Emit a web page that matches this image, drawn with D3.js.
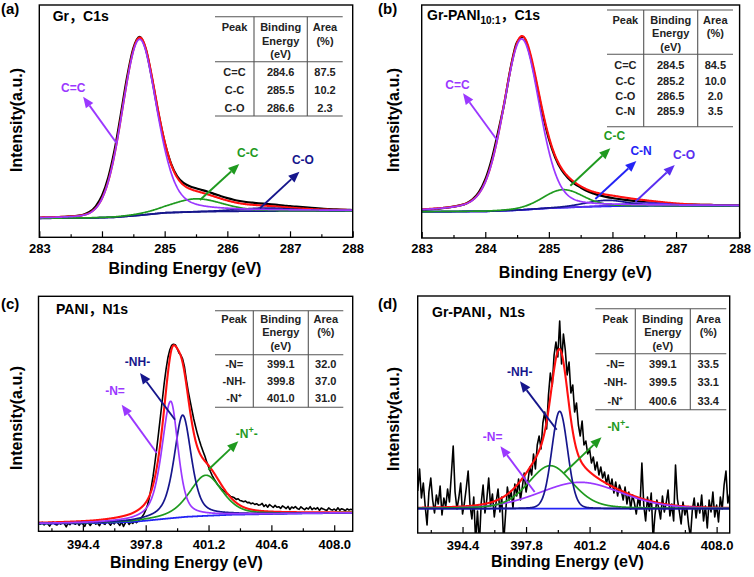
<!DOCTYPE html>
<html><head><meta charset="utf-8">
<script src="https://cdn.jsdelivr.net/npm/d3@7/dist/d3.min.js"></script>
<style>
body{margin:0;background:#fff}
svg{display:block}
text{font-family:"Liberation Sans",Arial,Helvetica,"Noto Sans CJK SC",sans-serif;font-weight:bold}
</style>
</head><body>
<svg id="chart" width="754" height="577"></svg>
<script>
// ================= DATA =================
// ---- (a) Gr, C1s ----
const aEnergyStart = 283.0, aEnergyStep = 0.1;
const aMeasured = [19.5,19.7,19.9,20.2,20.5,20.9,21.4,22.6,25.3,31.0,
  41.5,59.8,87.0,122.6,160.0,189.0,200.5,188.0,158.0,124.0,
  95.0,74.0,61.0,54.5,51.0,49.0,47.2,45.3,43.2,41.1,
  39.2,37.6,36.3,35.3,34.6,34.0,33.5,33.0,32.4,31.8,
  31.1,30.6,30.1,29.6,29.1,28.7,28.3,28.0,27.7,27.5,27.3];
const aPeakName   = ["C=C","C-C","C-O"];
const aPeakCenter = [284.6, 285.5, 286.6];
const aPeakHeight = [176, 13, 3];
const aPeakFwhmL  = [0.65, 1.0, 1.0];
const aPeakFwhmR  = [0.65, 1.0, 1.0];
const aPeakLorL   = [0.10, 0.2, 0.2];
const aPeakLorR   = [0.35, 0.2, 0.2];
const aBgEnergy = [283, 283.8, 284.2, 284.6, 285, 285.5, 286, 287, 288];
const aBgValue  = [19, 19.3, 20, 22, 24.5, 25.5, 26, 26.4, 26.6];
const aTablePeak   = ["C=C","C-C","C-O"];
const aTableEnergy = ["284.6","285.5","286.6"];
const aTableArea   = ["87.5","10.2","2.3"];

// ---- (b) Gr-PANI 10:1, C1s ----
const bEnergyStart = 283.0, bEnergyStep = 0.1;
const bMeasured = [28.2,28.6,29.1,29.6,30.3,31.3,32.6,34.6,38.6,45.8,
  58.5,78.5,105.5,135.0,170.5,196.0,201.0,184.0,155.5,125.0,
  99.0,80.5,68.0,60.0,54.5,50.5,47.0,44.6,42.6,41.2,
  40.0,39.0,38.1,37.3,36.6,36.0,35.4,34.9,34.5,34.1,
  33.8,33.6,33.4,33.3,33.2,33.1,33.0,33.0,32.9,32.9,32.8];
const bPeakName   = ["C=C","C-C","C-N","C-O"];
const bPeakCenter = [284.57, 285.22, 285.9, 286.5];
const bPeakHeight = [171, 18, 6, 3];
const bPeakFwhmL  = [0.67, 0.75, 0.8, 0.9];
const bPeakFwhmR  = [0.67, 0.75, 0.8, 0.9];
const bPeakLorL   = [0.3, 0.2, 0.2, 0.2];
const bPeakLorR   = [0.25, 0.2, 0.2, 0.2];
const bBgEnergy = [283, 284, 284.5, 285, 285.5, 286, 287, 288];
const bBgValue  = [26.3, 26.6, 27.8, 29.8, 31, 31.8, 32.2, 32.3];
const bTablePeak   = ["C=C","C-C","C-O","C-N"];
const bTableEnergy = ["284.5","285.2","286.5","285.9"];
const bTableArea   = ["84.5","10.0","2.0","3.5"];

// ---- (c) PANI, N1s ----
const cEnergyStart = 392.0, cEnergyStep = 0.1;
const cMeasured = [8.2,7.1,9.0,6.4,8.3,7.5,5.2,8.1,9.3,7.0,
  6.3,8.4,7.2,9.1,7.6,4.5,8.2,6.6,9.4,8.0,
  7.1,9.2,6.0,8.5,7.3,5.0,9.1,8.2,5.8,8.4,
  9.0,7.2,8.3,5.6,9.3,8.1,7.0,10.2,8.4,6.1,
  9.3,7.4,10.1,8.2,5.9,9.4,4.8,8.5,10.3,6.8,
  9.2,7.9,10.4,8.6,10.3,12.1,14.4,17.2,21.1,26.3,
  33.8,43.9,55.1,68.8,83.2,99.0,115.1,131.3,147.8,161.9,
  173.5,181.2,185.8,187.1,186.6,182.9,178.4,176.2,172.1,164.3,
  151.5,140.2,130.6,121.4,112.3,104.5,97.2,91.0,85.3,80.1,
  75.2,69.4,64.6,59.8,55.7,52.3,49.4,46.5,44.6,42.3,
  40.7,39.4,37.2,36.5,34.8,34.2,33.5,31.9,32.6,30.8,
  30.4,29.6,30.2,28.7,28.9,27.5,28.3,26.8,27.6,26.2,
  26.5,27.9,24.8,26.6,24.1,26.8,25.3,23.8,25.9,24.0,
  24.6,22.9,25.4,24.1,22.7,24.9,21.8,24.3,23.1,24.7,
  22.8,21.9,24.5,23.0,21.6,23.4,22.2,24.6,21.7,23.3,
  22.1,23.6,20.9,23.2,22.4,21.5,20.8,23.4,21.9,21.2,
  22.3,20.7,23.5,21.0,22.6,21.8,20.6,22.5,21.3,22.0,21.4];
const cPeakName   = ["-N=","-NH-","-N⁺-"];
const cPeakCenter = [399.15, 399.8, 401.05];
const cPeakHeight = [117, 102, 40.6];
const cPeakFwhmL  = [1.15, 1.1, 2.1];
const cPeakFwhmR  = [0.95, 1.1, 2.1];
const cPeakLorL   = [0.6, 0.6, 0.5];
const cPeakLorR   = [0.5, 0.5, 0.4];
const cBgEnergy = [392, 395, 397, 397.8, 399, 400, 401.2, 402.5, 404.6, 406.5, 409];
const cBgValue  = [7.6, 8.2, 9.3, 10.6, 12.8, 14.5, 15.6, 16.6, 17.3, 17.9, 18.4];
const cTablePeak   = ["-N=","-NH-","-N⁺"];
const cTableEnergy = ["399.1","399.8","401.0"];
const cTableArea   = ["32.0","37.0","31.0"];

// ---- (d) Gr-PANI, N1s ----
const dEnergyStart = 392.0, dEnergyStep = 0.1;
const dMeasured = [42,64,35,50,27,8,41,55,33,20,
  38,29,47,18,35,26,44,31,58,87,
  41,24,35,50,19,30,45,62,28,14,
  36,-8,22,-12,30,48,20,34,55,27,
  39,16,31,44,21,36,-10,18,46,33,
  42,25,49,37,54,33,46,60,41,52,
  66,58,79,64,88,97,84,110,121,104,
  138,160,147,178,191,176,212,169,199,183,
  158,171,140,148,121,130,108,97,112,88,
  92,79,84,70,76,63,71,58,66,55,
  61,49,58,45,54,40,51,37,48,42,
  33,46,29,41,24,38,30,19,35,27,
  70,28,12,36,22,40,-6,18,33,25,
  14,37,21,30,43,17,29,12,68,34,
  22,9,31,18,26,8,-4,23,35,15,
  30,20,38,12,27,5,33,21,41,16,
  28,11,36,24,48,62,30,39];
const dPeakName   = ["-N=","-NH-","-N⁺-"];
const dPeakCenter = [400.7, 399.6, 399.1];
const dPeakHeight = [26.4, 97.4, 43];
const dPeakFwhmL  = [5.2, 1.0, 2.8];
const dPeakFwhmR  = [5.2, 1.0, 2.8];
const dPeakLorL   = [0.2, 0.1, 0.3];
const dPeakLorR   = [0.2, 0.1, 0.3];
const dBgEnergy = [392, 408.7];
const dBgValue  = [24.3, 24.3];
const dTablePeak   = ["-N=","-NH-","-N⁺"];
const dTableEnergy = ["399.1","399.5","400.6"];
const dTableArea   = ["33.5","33.1","33.4"];

// ---- axis ticks ----
const cTicksMajor = [283, 284, 285, 286, 287, 288];
const cTicksMinor = [283.5, 284.5, 285.5, 286.5, 287.5];
const cTickLabels = ["283","284","285","286","287","288"];
const nTicksMajor = [394.4, 397.8, 401.2, 404.6, 408.0];
const nTicksMinor = [392.7, 396.1, 399.5, 402.9, 406.3];
const nTickLabels = ["394.4","397.8","401.2","404.6","408.0"];
const tableHeader = [["Peak"],["Binding","Energy","(eV)"],["Area","(%)"]];

// ================= STYLE / LAYOUT =================
const PURPLE="#9b38ff", GREEN="#1f9a1f", NAVY="#16168c", BLUE="#2424f5", RED="#ff1010", VIOLET="#5a2ef0";

const panels = [
 {label:"(a)", lx:1, ly:13.5, x0:39.3, x1:352.7, y0:5, y1:237.3, dom:[283,288],
  measured:aMeasured, eStart:aEnergyStart, eStep:aEnergyStep, noisy:false,
  pk:{c:aPeakCenter,h:aPeakHeight,wl:aPeakFwhmL,wr:aPeakFwhmR,el:aPeakLorL,er:aPeakLorR},
  colors:[PURPLE,GREEN,NAVY], bg:{e:aBgEnergy,v:aBgValue,color:NAVY},
  ticks:{maj:cTicksMajor,min:cTicksMinor,lab:cTickLabels}, tickBase:253.3,
  xTitle:[185,274.2], yTitle:[22,120],
  title:{x:52.7,y:25,parts:[["Gr，C1s",false]]},
  table:{cols:[215,254,307.3,342.7], lines:[16.7,61.7,116], head:[26.7,40.7,54], rows:[71.7,90,108.3],
         peak:aTablePeak, en:aTableEnergy, ar:aTableArea},
  ann:[{t:"C=C",c:PURPLE,from:[284.234,94],to:[283.70,140.6],txt:[283.54,145.3]},
       {t:"C-C",c:GREEN,from:[285.563,37.3],to:[286.19,73.3],txt:[286.325,80.3]},
       {t:"C-O",c:NAVY,from:[286.52,29],to:[287.15,65.6],txt:[287.206,73.3]}]},
 {label:"(b)", lx:378, ly:13.5, x0:421.7, x1:739.6, y0:5, y1:238, dom:[283,288],
  measured:bMeasured, eStart:bEnergyStart, eStep:bEnergyStep, noisy:false,
  pk:{c:bPeakCenter,h:bPeakHeight,wl:bPeakFwhmL,wr:bPeakFwhmR,el:bPeakLorL,er:bPeakLorR},
  colors:[PURPLE,GREEN,NAVY,VIOLET], bg:{e:bBgEnergy,v:bBgValue,color:BLUE},
  ticks:{maj:cTicksMajor,min:cTicksMinor,lab:cTickLabels}, tickBase:253.3,
  xTitle:[575.3,278.2], yTitle:[399,120],
  title:{x:427,y:23.5,parts:[["Gr-PANI",false],["10:1",true],["，C1s",false]]},
  table:{cols:[607,643.7,697.7,733], lines:[10,54.3,126.7], head:[20,33.3,46.7], rows:[65,80.7,96,110.7],
         peak:bTablePeak, en:bTableEnergy, ar:bTableArea},
  ann:[{t:"C=C",c:PURPLE,from:[284.185,98],to:[283.65,144.7],txt:[283.563,149.5]},
       {t:"C-C",c:GREEN,from:[285.338,52.3],to:[285.967,89.7],txt:[286.033,98]},
       {t:"C-N",c:BLUE,from:[285.731,39],to:[286.376,77],txt:[286.45,83]},
       {t:"C-O",c:VIOLET,from:[286.36,36.3],to:[286.98,73],txt:[287.127,79.5]}]},
 {label:"(c)", lx:1, ly:308.5, x0:38.5, x1:352.7, y0:296.3, y1:531.3, dom:[392,409],
  measured:cMeasured, eStart:cEnergyStart, eStep:cEnergyStep, noisy:true,
  pk:{c:cPeakCenter,h:cPeakHeight,wl:cPeakFwhmL,wr:cPeakFwhmR,el:cPeakLorL,er:cPeakLorR},
  colors:[PURPLE,NAVY,GREEN], bg:{e:cBgEnergy,v:cBgValue,color:BLUE},
  ticks:{maj:nTicksMajor,min:nTicksMinor,lab:nTickLabels}, tickBase:549.5,
  xTitle:[186.5,567.5], yTitle:[22,418],
  title:{x:56,y:318,parts:[["PANI，N1s",false]]},
  table:{cols:[215,253.3,308.3,343.3], lines:[310.7,354.7,407.3], head:[318.7,332,345.7], rows:[364,381.3,398],
         peak:cTablePeak, en:cTableEnergy, ar:cTableArea},
  ann:[{t:"-NH-",c:NAVY,from:[399.386,111.6],to:[397.49,158.3],txt:[397.357,165.3]},
       {t:"-N=",c:PURPLE,from:[398.396,78.3],to:[396.502,126.6],txt:[396.14,136.3]},
       {t:"N+",c:GREEN,from:[401.188,61.6],to:[402.81,90],txt:[403.27,93.3]}]},
 {label:"(d)", lx:378, ly:308.5, x0:417.7, x1:729.7, y0:296, y1:533, dom:[392,408.7],
  measured:dMeasured, eStart:dEnergyStart, eStep:dEnergyStep, noisy:true,
  pk:{c:dPeakCenter,h:dPeakHeight,wl:dPeakFwhmL,wr:dPeakFwhmR,el:dPeakLorL,er:dPeakLorR},
  colors:[PURPLE,NAVY,GREEN], bg:{e:dBgEnergy,v:dBgValue,color:BLUE},
  ticks:{maj:nTicksMajor,min:nTicksMinor,lab:nTickLabels}, tickBase:549.5,
  xTitle:[567.5,567],
  yTitle:[399,419],
  title:{x:432,y:321,parts:[["Gr-PANI，N1s",false]]},
  table:{cols:[595.3,635.3,690.3,726.3], lines:[308.7,353.7,409.7], head:[318.7,332.3,345.8], rows:[364,382.3,400.7],
         peak:dTablePeak, en:dTableEnergy, ar:dTableArea},
  ann:[{t:"-NH-",c:NAVY,from:[399.44,103.3],to:[397.475,151.7],txt:[397.464,157]},
       {t:"-N=",c:PURPLE,from:[398.26,41],to:[396.43,86.7],txt:[396.015,92]},
       {t:"N+",c:GREEN,from:[399.837,60],to:[401.84,95.7],txt:[402.74,102]}]}
];

// ================= DRAW =================
const svg = d3.select("#chart");
svg.append("rect").attr("width",754).attr("height",577).attr("fill","#fff");

function peak(x, pk, i){
  const d = x - pk.c[i];
  const w = d < 0 ? pk.wl[i] : pk.wr[i];
  const eta = d < 0 ? pk.el[i] : pk.er[i];
  const r = (d/w)*(d/w);
  return pk.h[i]*((1-eta)*Math.exp(-4*Math.LN2*r) + eta/(1+4*r));
}

function arrow(g, X, Y, a){
  const x1=X(a.from[0]), y1=Y(a.from[1]), x2=X(a.to[0]), y2=Y(a.to[1]);
  const ang=Math.atan2(y2-y1,x2-x1), L=11, hw=4.6;
  const bx=x2-L*Math.cos(ang), by=y2-L*Math.sin(ang);
  g.append("line").attr("x1",x1).attr("y1",y1).attr("x2",bx).attr("y2",by)
    .attr("stroke",a.c).attr("stroke-width",1.9);
  g.append("path").attr("d",`M${x2},${y2}L${bx+hw*Math.sin(ang)},${by-hw*Math.cos(ang)}L${bx-hw*Math.sin(ang)},${by+hw*Math.cos(ang)}Z`)
    .attr("fill",a.c);
}

panels.forEach((p, pi) => {
  const g = svg.append("g");
  const X = d3.scaleLinear().domain(p.dom).range([p.x0, p.x1]);
  const Y = d3.scaleLinear().domain([0, p.y1 - p.y0]).range([p.y1, p.y0]);
  const bg = d3.scaleLinear().domain(p.bg.e).range(p.bg.v).clamp(true);
  const clipId = "clip" + pi;
  g.append("clipPath").attr("id", clipId).append("rect")
    .attr("x", p.x0).attr("y", p.y0).attr("width", p.x1 - p.x0).attr("height", p.y1 - p.y0);
  const plot = g.append("g").attr("clip-path", `url(#${clipId})`);

  const grid = d3.range(p.dom[0], p.dom[1] + 1e-9, 0.01);
  const nPk = p.pk.c.length;
  const line = d3.line().x(d => X(d[0])).y(d => Y(d[1]));

  // measured data
  const meas = p.measured.map((v, i) => [p.eStart + i * p.eStep, v]);
  const measLine = d3.line().x(d=>X(d[0])).y(d=>Y(d[1])).curve(p.noisy ? d3.curveLinear : d3.curveMonotoneX);
  plot.append("path").datum(meas).attr("d", measLine)
    .attr("fill","none").attr("stroke","#000").attr("stroke-width", p.noisy ? 1.6 : 2.2).attr("stroke-linejoin","round");

  // envelope
  const env = grid.map(x => { let s = bg(x); for (let i=0;i<nPk;i++) s += peak(x, p.pk, i); return [x, s]; });
  plot.append("path").datum(env).attr("d", line)
    .attr("fill","none").attr("stroke",RED).attr("stroke-width",2.1);

  // background
  const bgLine = grid.map(x => [x, bg(x)]);
  plot.append("path").datum(bgLine).attr("d", line)
    .attr("fill","none").attr("stroke",p.bg.color).attr("stroke-width",1.8);

  // components (smallest first)
  const order = d3.range(nPk).sort((a,b) => p.pk.h[a] - p.pk.h[b]);
  order.forEach(i => {
    const comp = grid.map(x => [x, bg(x) + peak(x, p.pk, i)]);
    plot.append("path").datum(comp).attr("d", line)
      .attr("fill","none").attr("stroke",p.colors[i]).attr("stroke-width",1.7);
  });

  // frame
  g.append("rect").attr("x",p.x0).attr("y",p.y0).attr("width",p.x1-p.x0).attr("height",p.y1-p.y0)
    .attr("fill","none").attr("stroke","#000").attr("stroke-width",1.4);

  // axes
  const axMaj = d3.axisBottom(X).tickValues(p.ticks.maj).tickSizeInner(-6).tickSizeOuter(0)
    .tickPadding(0).tickFormat((d,i) => p.ticks.lab[i]);
  const ag = g.append("g").attr("transform",`translate(0,${p.y1})`).call(axMaj);
  ag.select(".domain").remove();
  ag.selectAll(".tick line").attr("stroke","#000").attr("stroke-width",1.2);
  ag.selectAll(".tick text").attr("dy",null).attr("y", p.tickBase - p.y1)
    .attr("font-size",13).attr("fill","#000")
    .style("font-family",'"Liberation Sans",Arial,sans-serif').style("font-weight","bold");
  const axMin = d3.axisBottom(X).tickValues(p.ticks.min).tickSizeInner(-3).tickSizeOuter(0).tickFormat("");
  const mg = g.append("g").attr("transform",`translate(0,${p.y1})`).call(axMin);
  mg.select(".domain").remove();
  mg.selectAll(".tick line").attr("stroke","#000").attr("stroke-width",1.2);

  // axis titles
  g.append("text").attr("x",p.xTitle[0]).attr("y",p.xTitle[1]).attr("text-anchor","middle")
    .attr("font-size",16).attr("fill","#000").text("Binding Energy (eV)");
  g.append("text").attr("transform",`translate(${p.yTitle[0]},${p.yTitle[1]}) rotate(-90)`)
    .attr("text-anchor","middle").attr("font-size",16).attr("fill","#000").text("Intensity(a.u.)");

  // panel label
  g.append("text").attr("x",p.lx).attr("y",p.ly).attr("font-size",15).attr("fill","#000").text(p.label);

  // panel title
  const tt = g.append("text").attr("x",p.title.x).attr("y",p.title.y).attr("font-size",14).attr("fill","#000");
  p.title.parts.forEach(([s,sub]) => {
    if (sub) tt.append("tspan").attr("font-size",10).attr("dy",4).text(s);
    else tt.append("tspan").attr("dy", tt.selectAll("tspan").size() > 0 ? -4 : 0).text(s);
  });

  // table
  const T = p.table, tg = g.append("g");
  T.lines.forEach(y => tg.append("line").attr("x1",T.cols[0]).attr("x2",T.cols[3]).attr("y1",y).attr("y2",y)
    .attr("stroke","#555").attr("stroke-width",1.1));
  [1,2].forEach(k => tg.append("line").attr("x1",T.cols[k]).attr("x2",T.cols[k]).attr("y1",T.lines[0]).attr("y2",T.lines[2])
    .attr("stroke","#555").attr("stroke-width",1.1));
  const cx = [0,1,2].map(k => (T.cols[k]+T.cols[k+1])/2);
  tableHeader.forEach((lines,k) => lines.forEach((s,j) =>
    tg.append("text").attr("x",cx[k]).attr("y",T.head[j]+4).attr("text-anchor","middle")
      .attr("font-size",11).attr("fill","#222").text(s)));
  T.peak.forEach((s,r) => {
    [s, T.en[r], T.ar[r]].forEach((v,k) =>
      tg.append("text").attr("x",cx[k]).attr("y",T.rows[r]+4).attr("text-anchor","middle")
        .attr("font-size",11).attr("fill","#222").text(v));
  });

  // annotations
  p.ann.forEach(a => {
    arrow(g, X, Y, a);
    const t = g.append("text").attr("x",X(a.txt[0])).attr("y",Y(a.txt[1])).attr("text-anchor","middle")
      .attr("font-size",12).attr("fill",a.c);
    if (a.t === "N+") {
      t.append("tspan").text("-N");
      t.append("tspan").attr("dy",-5).attr("font-size",9).text("+");
      t.append("tspan").attr("dy",5).text("-");
    } else t.text(a.t);
  });
});
</script>
</body></html>
